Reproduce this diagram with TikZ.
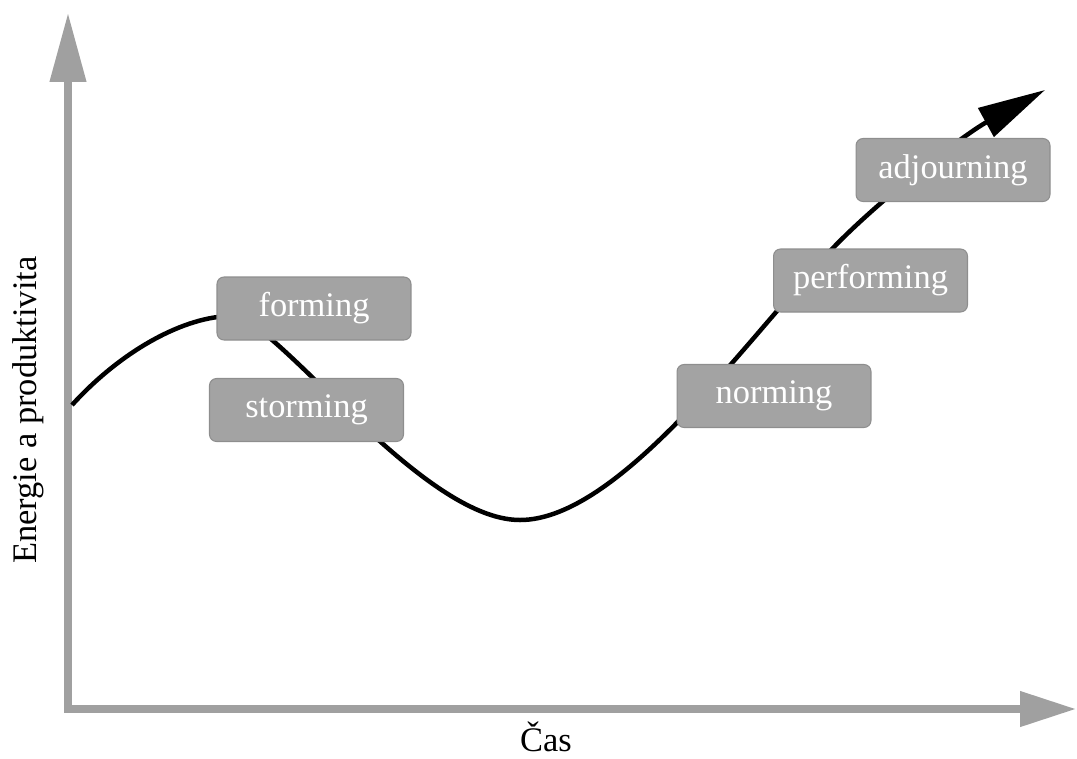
\documentclass[tikz,border=0pt]{standalone}
\usepackage{fontspec}
\setmainfont{Liberation Serif}
\usetikzlibrary{arrows.meta, positioning}
\definecolor{axisgray}{HTML}{A0A0A0}
\definecolor{boxgray}{HTML}{A3A3A3}
\definecolor{boxedge}{HTML}{8E8E8E}

\begin{document}
\begin{tikzpicture}[x=0.02cm, y=-0.02cm,
    phase/.style={draw=boxedge, fill=boxgray, line width=0.6pt, rounded corners=4pt,
        text=white, minimum width=3.88cm, minimum height=1.26cm, font=\fontsize{19.6}{23}\selectfont},
    axis/.style={axisgray, line width=0.15cm},
    label/.style={font=\fontsize{19.6}{23}\selectfont}]
    \useasboundingbox (0,0) rectangle (1077,758);

    % Axes
    \coordinate (origin) at (68,712);
    \coordinate (xstart) at (64,709);
    \coordinate (ytip) at (68,13);
    \coordinate (xtip) at (1076,709);
    \draw[axis, -{Triangle[length=1.38cm, width=0.7cm]}] (origin) -- (ytip);
    \draw[axis, -{Triangle[length=1.12cm, width=0.68cm]}] (xstart) -- (xtip);

    % Axis labels
    \node[label, rotate=90] (ylabel) at (28,410) {Energie a produktivita};
    \node[label] (xlabel) at (546,737) {Čas};

    % Curve
    \coordinate (start) at (72,405);
    \coordinate (peak) at (232,316);
    \coordinate (low) at (520,520);
    \coordinate (rise) at (832,249);
    \coordinate (curveend) at (1045,90);
    \draw[line width=0.09cm, -{Triangle[length=1.35cm, width=0.64cm]}]
        (start) .. controls (122,350) and (185,316) .. (peak)
        .. controls (275,316) and (420,520) .. (low)
        .. controls (620,520) and (750,335) .. (rise)
        .. controls (882,197) and (965,134) .. (curveend);

    % Phases
    \node[phase] (forming) at (314,308.5) {forming};
    \node[phase] (storming) at (306.5,410) {storming};
    \node[phase] (norming) at (774,396) {norming};
    \node[phase] (performing) at (870.5,280.5) {performing};
    \node[phase] (adjourning) at (953,170) {adjourning};

\end{tikzpicture}
\end{document}
